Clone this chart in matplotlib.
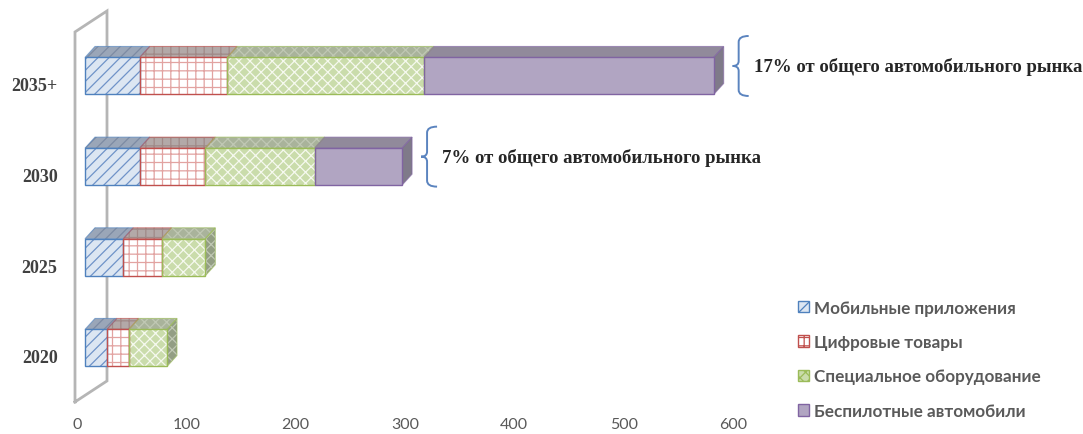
import matplotlib
matplotlib.use("Agg")
import matplotlib.pyplot as plt
from matplotlib.patches import Polygon, Patch, PathPatch
from matplotlib.path import Path
import numpy as np

# ---- data ----
years = ["2020", "2025", "2030", "2035+"]
series = ["Мобильные приложения", "Цифровые товары",
          "Специальное оборудование", "Беспилотные автомобили"]
mobile_apps = [20, 35, 50, 50]
digital_goods = [20, 35, 60, 80]
special_equipment = [35, 40, 100, 180]
autonomous_cars = [0, 0, 80, 265]
notes = {2: "7% от общего автомобильного рынка",
         3: "17% от общего автомобильного рынка"}
xticks = [0, 100, 200, 300, 400, 500, 600]

values = np.array([mobile_apps, digital_goods, special_equipment, autonomous_cars], dtype=float)

# ---- styles ----
edge_cols = ["#4f81bd", "#c0504d", "#9bbb59", "#8064a2"]
face_cols = ["#dce6f2", "#ffffff", "#cadcab", "#b1a5c2"]
hatch_cols = ["#6f93c8", "#e2a3a1", "#f6f9ef", "#b1a5c2"]
hatches = ["///", "++", "xxx", None]
top_cols = ["#9aa6b8", "#b3a9a8", "#a9b39b", "#918a9b"]
top_hatch = ["#7d8ba3", "#a08a88", "#c0c8b4", "#918a9b"]
side_cols = ["#8793a6", "#a09593", "#939e84", "#7f7a89"]

plt.rcParams["hatch.linewidth"] = 0.9

fig = plt.figure(figsize=(10.83, 4.35), dpi=100)
ax = fig.add_axes([77 / 1083, 25 / 435, 656 / 1083, 400 / 435])
ax.set_xlim(0, 600)
ax.set_ylim(-0.585, 3.827)
for s in ax.spines.values():
    s.set_visible(False)

# pixel -> data unit conversion for the 3-D projection offsets
fig.canvas.draw()
p0 = ax.transData.transform((0, 0))
p1 = ax.transData.transform((1, 1))
ux = 1.0 / (p1[0] - p0[0])
uy = 1.0 / (p1[1] - p0[1])

front_dx, front_dy = 8 * ux, 8 * uy        # front face shift
depth_dx, depth_dy = 10 * ux, 11 * uy      # top / side face depth
bar_h = 37 * uy

# back wall
wb, wt = -0.507, 3.574
wx0, wx1, wdy = -2 * ux, 30 * ux, 21 * uy
wall = [(wx0, wb), (wx0, wt), (wx1, wt + wdy), (wx1, wb + wdy), (wx0, wb)]
ax.plot([p[0] for p in wall], [p[1] for p in wall], color="#b5b5b5", lw=2,
        zorder=1, solid_joinstyle="miter", clip_on=False)

ypos = np.arange(len(years))
for i in ypos:
    left = front_dx
    yc = i + front_dy
    y0, y1 = yc - bar_h / 2, yc + bar_h / 2
    segs = [(k, values[k, i]) for k in range(4) if values[k, i] > 0]
    for n, (k, w) in enumerate(segs):
        x0, x1 = left, left + w
        # top face
        top = [(x0, y1), (x1, y1), (x1 + depth_dx, y1 + depth_dy), (x0 + depth_dx, y1 + depth_dy)]
        ax.add_patch(Polygon(top, closed=True, facecolor=top_cols[k],
                             edgecolor=top_hatch[k], hatch=hatches[k], lw=0, zorder=3))
        ax.add_patch(Polygon(top, closed=True, fill=False, edgecolor=edge_cols[k],
                             lw=0.8, alpha=0.6, zorder=3.1))
        # right side face on the last segment
        if n == len(segs) - 1:
            side = [(x1, y0), (x1, y1), (x1 + depth_dx, y1 + depth_dy), (x1 + depth_dx, y0 + depth_dy)]
            ax.add_patch(Polygon(side, closed=True, facecolor=side_cols[k],
                                 edgecolor=top_hatch[k], hatch=hatches[k], lw=0, zorder=3))
            ax.add_patch(Polygon(side, closed=True, fill=False, edgecolor=edge_cols[k],
                                 lw=0.8, alpha=0.6, zorder=3.1))
        # front face
        ax.barh(yc, w, left=x0, height=bar_h, color=face_cols[k],
                edgecolor=hatch_cols[k], hatch=hatches[k], lw=0, zorder=4)
        ax.barh(yc, w, left=x0, height=bar_h, fill=False,
                edgecolor=edge_cols[k], lw=1.0, zorder=4.1)
        left = x1

# curly brackets with notes
for i, txt in notes.items():
    total = values[:, i].sum()
    xb = total + front_dx + 25 * ux
    yc = i + front_dy + 10 * uy
    h = 30 * uy
    verts = [(xb + 10 * ux, yc + h), (xb, yc + h), (xb, yc + h - 6 * uy),
             (xb, yc + 5 * uy),
             (xb, yc), (xb - 6 * ux, yc),
             (xb, yc), (xb, yc - 5 * uy),
             (xb, yc - h + 6 * uy),
             (xb, yc - h), (xb + 10 * ux, yc - h)]
    codes = [Path.MOVETO, Path.CURVE3, Path.CURVE3, Path.LINETO,
             Path.CURVE3, Path.CURVE3, Path.CURVE3, Path.CURVE3,
             Path.LINETO, Path.CURVE3, Path.CURVE3]
    ax.add_patch(PathPatch(Path(verts, codes), fill=False, edgecolor="#5b84bf",
                           lw=1.4, zorder=5, clip_on=False))
    ax.text(xb + 15 * ux, yc, txt, ha="left", va="center",
            family="Liberation Serif", weight="bold", fontsize=13.5,
            color="#262626", clip_on=False)

# axes ticks
ax.set_xticks(xticks)
ax.set_xticklabels([str(t) for t in xticks], family="Lato", fontsize=11.5, color="#595959")
ax.set_yticks(ypos)
ax.set_yticklabels(years, family="Liberation Serif", weight="bold", fontsize=13, color="#404040")
ax.tick_params(axis="both", length=0)
ax.tick_params(axis="x", pad=6)
ax.tick_params(axis="y", pad=14)

# legend
handles = [Patch(facecolor=face_cols[k], edgecolor=edge_cols[k], hatch=hatches[k], lw=1,
                 label=series[k]) for k in range(4)]
leg = fig.legend(handles=handles, loc="upper left", bbox_to_anchor=(789 / 1083, 1 - 292 / 435),
                 frameon=False, fontsize=12.3, handlelength=0.65, handleheight=0.65,
                 handletextpad=0.3, labelspacing=1.08, borderpad=0)
for t in leg.get_texts():
    t.set_family("Lato")
    t.set_weight("bold")
    t.set_color("#5a5a5a")

fig.savefig("out.png", dpi=100)
